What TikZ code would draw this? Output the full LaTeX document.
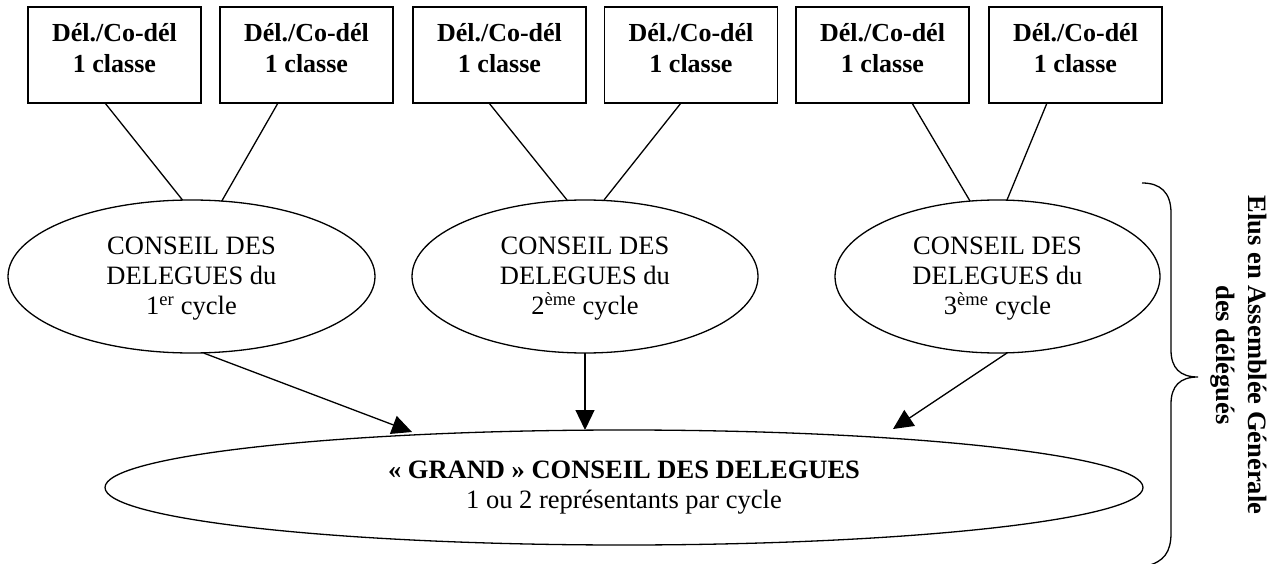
\documentclass[tikz,border=0pt]{standalone}
\usepackage{fontspec}
\setmainfont{Liberation Serif}
\usetikzlibrary{shapes.geometric,arrows.meta}
\begin{document}
\begin{tikzpicture}[x=1pt,y=-1pt,
  line width=1.3pt,
  delbox/.style={draw,rectangle,minimum width=173pt,minimum height=96pt,inner sep=0pt,outer sep=0pt},
  cyc/.style={draw,ellipse,inner sep=0pt,outer sep=0pt,minimum height=153pt},
  boxtxt/.style={align=center,font=\fontsize{26}{31}\selectfont\bfseries,inner sep=0pt},
  cyctxt/.style={align=center,font=\fontsize{26.5}{30}\selectfont,inner sep=0pt},
  link/.style={draw},
  arr/.style={draw,-{Triangle[length=20pt,width=19pt]}}
]
\useasboundingbox (0,0) rectangle (1288,564);

% class delegate boxes
\node[delbox] (b1) at (114.5,55) {};
\node[delbox] (b2) at (306.5,55) {};
\node[delbox] (b3) at (499.5,55) {};
\node[delbox] (b4) at (691,55) {};
\node[delbox] (b5) at (882.5,55) {};
\node[delbox] (b6) at (1075.5,55) {};
\foreach \i in {1,...,6}{
  \node[boxtxt] (t\i) at ([yshift=6.5pt]b\i.center) {Dél./Co-dél\\1 classe};
}

% cycle councils
\node[cyc,minimum width=367pt] (e1) at (191.5,276.5) {};
\node[cyc,minimum width=346pt] (e2) at (585,276.5) {};
\node[cyc,minimum width=325pt] (e3) at (997.5,276.5) {};
\node[cyctxt] (c1) at ([yshift=-2.5pt]e1.center) {CONSEIL DES\\DELEGUES du\\1\textsuperscript{er} cycle};
\node[cyctxt] (c2) at ([yshift=-2.5pt]e2.center) {CONSEIL DES\\DELEGUES du\\2\textsuperscript{ème} cycle};
\node[cyctxt] (c3) at ([yshift=-2.5pt]e3.center) {CONSEIL DES\\DELEGUES du\\3\textsuperscript{ème} cycle};

% grand council
\node[draw,ellipse,inner sep=0pt,outer sep=0pt,minimum width=1038pt,minimum height=115pt] (g) at (624,487.5) {};
\node[cyctxt] (gt) at (g.center) {{\bfseries « GRAND » CONSEIL DES DELEGUES}\\1 ou 2 représentants par cycle};

% links boxes -> cycle councils
\draw[link] ([xshift=-9.5pt]b1.south) -- ([xshift=-9pt]e1.north);
\draw[link] ([xshift=-28.5pt]b2.south) -- ([xshift=30pt,yshift=-1.5pt]e1.north);
\draw[link] ([xshift=-10.5pt]b3.south) -- ([xshift=-18pt]e2.north);
\draw[link] ([xshift=-10pt]b4.south) -- ([xshift=19pt]e2.north);
\draw[link] ([xshift=29.5pt]b5.south) -- ([xshift=-27.5pt,yshift=-1pt]e3.north);
\draw[link] ([xshift=-28.5pt]b6.south) -- ([xshift=9.5pt]e3.north);

% arrows to grand council
\draw[arr] ([xshift=12pt]e1.south) -- ([xshift=-212pt,yshift=-2pt]g.north);
\draw[arr] (e2.south) -- (e2.south |- g.north);
\draw[arr] ([xshift=9.5pt]e3.south) -- ([xshift=269pt,yshift=1pt]g.north);

% brace
\draw (1142,183) .. controls (1160,183) and (1171,192) .. (1171,213) -- (1171,350)
  .. controls (1171,368) and (1180,377) .. (1198,377)
  .. controls (1180,377) and (1171,386) .. (1171,404) -- (1171,533)
  .. controls (1171,552) and (1164,562) .. (1146,566);

\node[align=center,font=\fontsize{26.5}{32}\selectfont\bfseries,inner sep=0pt,rotate=-90] (elus) at (1239,355) {Elus en Assemblée Générale\\des délégués};
\end{tikzpicture}
\end{document}
